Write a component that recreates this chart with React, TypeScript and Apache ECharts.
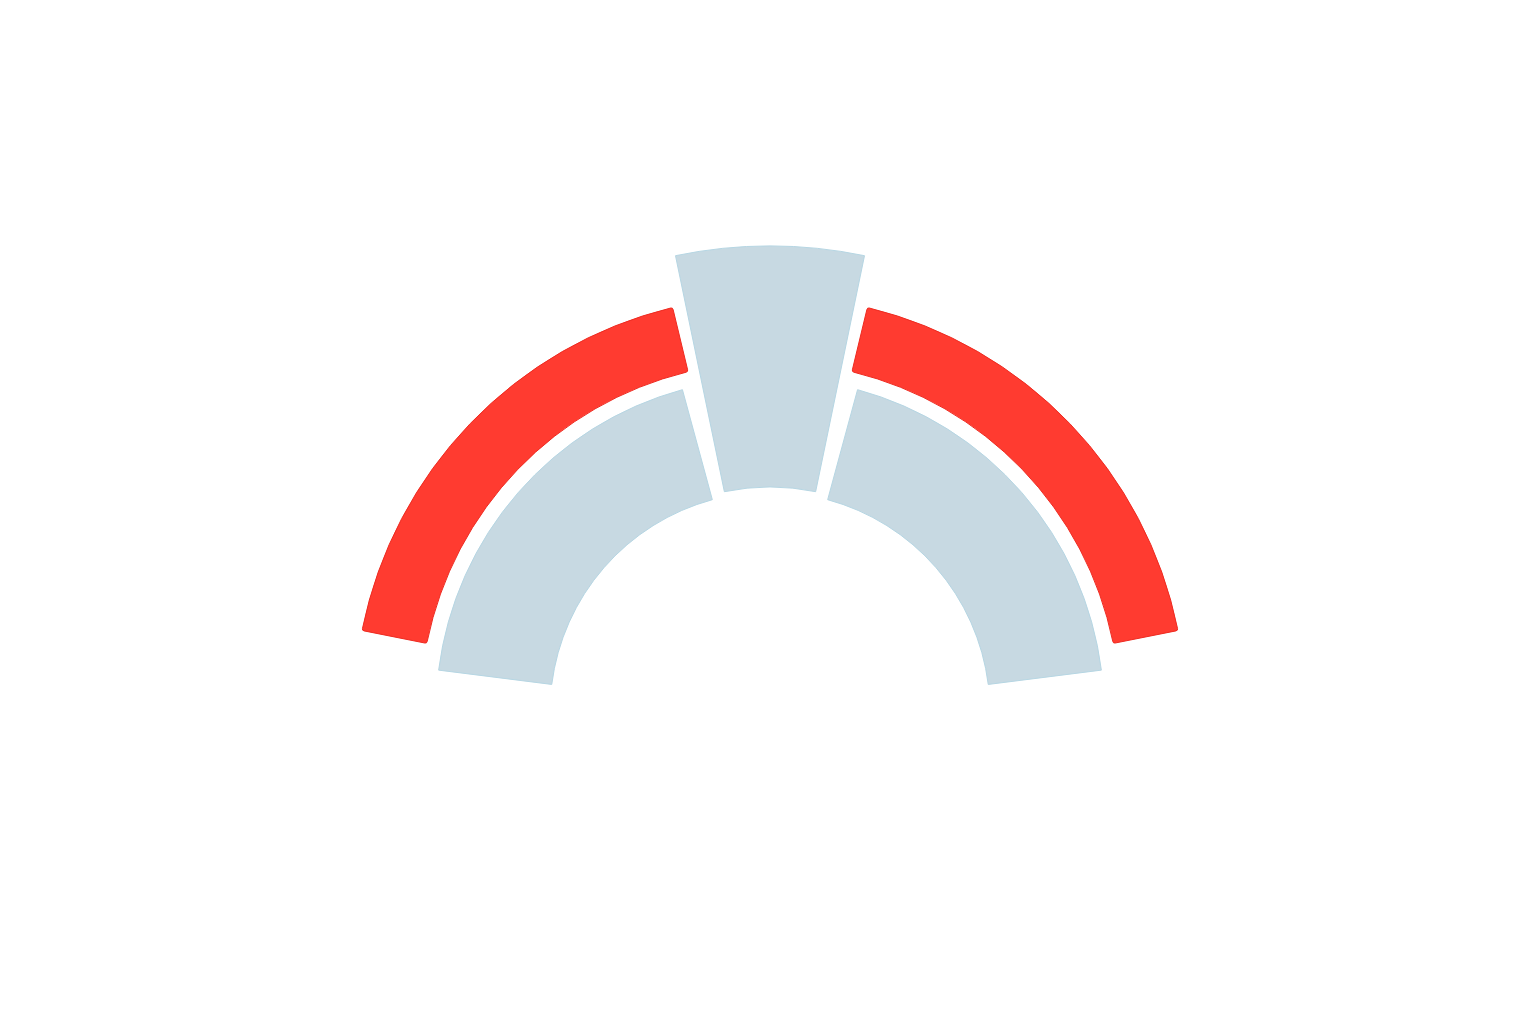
import React, { useEffect, useRef } from "react";
import * as echarts from "echarts";

const categories = ["Left", "Center", "Right"];
const sectorValues = [72, 26, 72];
const innerVisible = [true, false, true];
const centerVisible = [false, true, false];
const outerVisible = [true, false, true];

const BLUE = "#c7d9e2";
const BLUE_EDGE = "#b6d6e3";
const RED = "#ff3b30";
const RED_EDGE = "#ee2a20";

function buildData(visible: boolean[], color: string, edge: string) {
  return categories.map((name, i) => ({
    name,
    value: sectorValues[i],
    itemStyle: visible[i]
      ? { color, borderColor: edge, borderWidth: 1 }
      : { color: "rgba(0,0,0,0)", borderWidth: 0 },
  }));
}

export default function App() {
  const ref = useRef<HTMLDivElement>(null);
  useEffect(() => {
    if (!ref.current) return;
    const chart = echarts.init(ref.current, null, { renderer: "svg" });
    const common = {
      type: "pie" as const,
      center: [770, 712],
      clockwise: true,
      silent: true,
      label: { show: false },
      labelLine: { show: false },
      emphasis: { disabled: true },
    };
    chart.setOption({
      animation: false,
      backgroundColor: "#ffffff",
      series: [
        {
          ...common,
          name: "inner",
          radius: [220, 334],
          startAngle: 175,
          endAngle: 5,
          padAngle: 4.4,
          data: buildData(innerVisible, BLUE, BLUE_EDGE),
        },
        {
          ...common,
          name: "center",
          radius: [225, 466],
          startAngle: 175,
          endAngle: 5,
          padAngle: 2.6,
          data: buildData(centerVisible, BLUE, BLUE_EDGE),
        },
        {
          ...common,
          name: "outer",
          radius: [350, 416],
          startAngle: 170,
          endAngle: 10,
          padAngle: 2.6,
          itemStyle: { borderRadius: 2 },
          data: buildData(outerVisible, RED, RED_EDGE),
        },
      ],
    });
    return () => chart.dispose();
  }, []);
  return (
    <div
      ref={ref}
      style={{ position: "fixed", left: 0, top: 0, width: 1536, height: 1024, background: "#fff" }}
    />
  );
}
